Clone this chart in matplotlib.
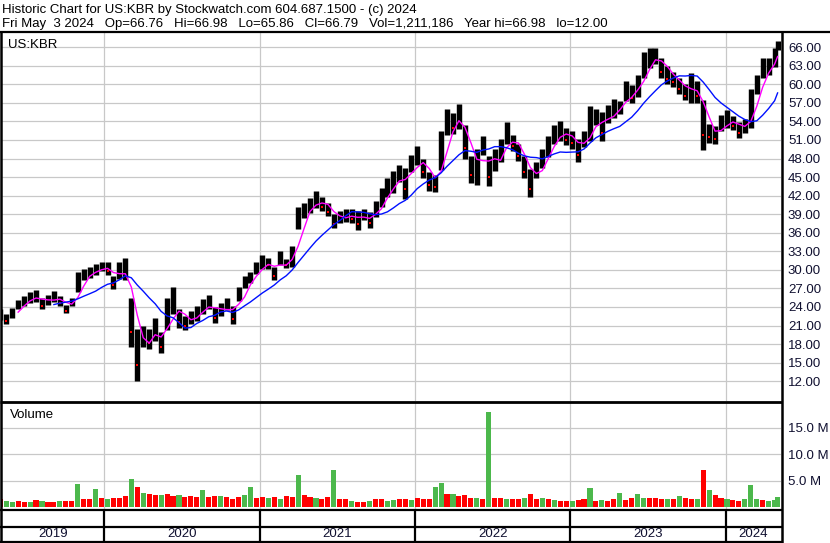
import numpy as np
import pandas as pd
import matplotlib
matplotlib.use("Agg")
import matplotlib.pyplot as plt
import matplotlib.dates as mdates
from matplotlib.lines import Line2D

plt.rcParams['font.family'] = ['Liberation Sans', 'DejaVu Sans']

# bi-weekly bars (US:KBR, May 2019 - May 2024)
dates = list(pd.date_range('2019-05-03', periods=131, freq='14D')) + [pd.Timestamp('2024-05-03')]

high = [23.6, 22.8, 23.9, 25.2, 25.8, 26.4, 26.8, 25.4, 26.0, 26.6,
        25.8, 24.3, 25.4, 29.6, 30.2, 30.4, 30.9, 31.2, 31.3, 29.0,
        31.3, 32.0, 25.5, 20.5, 21.0, 20.5, 22.3, 19.9, 25.5, 27.3,
        23.6, 22.5, 23.4, 24.2, 25.3, 26.0, 24.0, 24.7, 25.4, 24.2,
        27.3, 29.0, 29.6, 31.2, 32.4, 32.0, 30.4, 33.0, 31.8, 33.8,
        40.1, 40.8, 41.6, 42.8, 41.8, 40.8, 39.0, 39.6, 39.8, 39.8,
        39.5, 39.8, 39.4, 41.2, 43.2, 44.8, 46.0, 47.0, 46.5, 48.5,
        50.0, 48.0, 45.8, 45.4, 52.5, 56.0, 55.3, 56.8, 53.5, 48.4,
        49.6, 51.6, 48.4, 49.6, 51.2, 53.9, 51.8, 50.3, 48.4, 46.3,
        47.4, 49.6, 51.7, 53.4, 54.0, 52.9, 52.4, 51.2, 52.4, 56.5,
        56.0, 55.5, 56.6, 57.6, 57.3, 60.6, 59.9, 61.5, 65.3, 65.8,
        65.8, 64.2, 63.0, 62.0, 61.0, 60.0, 61.8, 60.5, 57.5, 53.6,
        53.3, 55.0, 55.8, 54.8, 53.9, 54.4, 59.2, 61.5, 64.2, 64.3,
        65.8, 67.0]

low = [21.9, 21.3, 22.2, 23.6, 24.2, 24.7, 24.8, 23.6, 24.3, 24.8,
       24.1, 23.0, 24.2, 26.5, 28.3, 28.7, 29.1, 29.8, 29.2, 26.9,
       28.6, 28.4, 17.5, 12.1, 17.6, 17.2, 18.5, 16.5, 20.2, 22.8,
       20.6, 20.2, 21.3, 21.8, 22.9, 23.7, 21.4, 22.5, 23.5, 21.2,
       24.9, 27.0, 27.8, 29.3, 30.2, 30.2, 28.3, 30.8, 30.3, 30.4,
       36.6, 38.4, 39.2, 40.0, 39.5, 38.7, 36.8, 37.5, 37.8, 37.6,
       36.5, 38.0, 36.8, 38.6, 40.2, 41.8, 42.5, 44.2, 41.5, 45.8,
       47.0, 44.8, 42.8, 42.6, 46.2, 51.8, 52.0, 52.8, 48.0, 44.0,
       43.8, 48.6, 43.6, 46.0, 47.5, 50.3, 49.2, 47.6, 44.8, 41.8,
       44.8, 46.4, 48.2, 50.4, 50.9, 50.2, 49.6, 47.4, 49.8, 50.8,
       53.4, 50.8, 53.8, 54.6, 55.2, 57.3, 57.0, 58.0, 61.0, 62.6,
       63.3, 61.0, 60.0, 59.6, 58.5, 57.4, 57.0, 57.0, 49.4, 50.5,
       50.3, 52.4, 52.9, 52.6, 51.4, 52.1, 53.0, 58.4, 61.0, 61.5,
       62.8, 65.6]

# volume in millions, and up (g) / down (r) day colour of the biggest bar
volume_m = [1.6, 1.2, 1.0, 1.3, 1.1, 1.0, 1.4, 1.2, 1.0, 1.1,
            1.3, 1.2, 1.2, 4.4, 1.6, 1.5, 3.5, 1.7, 1.6, 1.8,
            1.7, 2.2, 5.4, 3.8, 2.8, 2.5, 2.3, 2.4, 2.6, 2.2,
            2.4, 2.0, 2.1, 1.9, 3.2, 2.0, 2.2, 2.1, 2.0, 1.6,
            2.0, 2.3, 3.9, 1.8, 2.0, 1.8, 2.0, 1.6, 2.2, 2.0,
            6.2, 2.3, 1.9, 1.8, 1.6, 2.0, 7.1, 1.6, 1.5, 1.2,
            1.1, 1.0, 1.2, 1.5, 1.6, 1.3, 1.4, 1.5, 1.6, 1.4,
            1.7, 1.5, 1.6, 3.9, 4.6, 2.6, 2.5, 2.2, 2.3, 1.8,
            1.7, 1.5, 18.0, 1.8, 1.7, 1.6, 1.5, 1.6, 1.7, 2.5,
            1.6, 1.8, 1.5, 1.4, 1.3, 1.2, 1.3, 1.4, 1.5, 3.6,
            1.3, 1.4, 1.3, 1.6, 2.8, 1.4, 1.8, 2.6, 1.8, 1.8,
            1.8, 1.5, 1.6, 1.5, 2.2, 1.7, 1.6, 1.5, 7.1, 3.2,
            2.4, 1.8, 1.5, 1.4, 1.3, 1.5, 4.2, 1.5, 1.4, 1.3,
            1.4, 1.9]
vol_dir = ("rggrrgrgrr" "grrgrrgrgr" "rrgrgrrgrr" "grrrgrrgrr" "rggrrgrgrr"
           "grrgrrgrrg" "rrgrrggrrg" "rrrggrgrrr" "grgrrgrrgr" "rgrgrrgrrg"
           "rgrrgrrggr" "rrgrgrrgrg" "rrgrrgggrg" "gg")

years = [2019, 2020, 2021, 2022, 2023, 2024]
price_ticks = list(range(12, 67, 3))
vol_ticks = [5, 10, 15]

header1 = "Historic Chart for US:KBR by Stockwatch.com 604.687.1500 - (c) 2024"
header2 = ("Fri May  3 2024   Op=66.76   Hi=66.98   Lo=65.86   Cl=66.79   "
           "Vol=1,211,186   Year hi=66.98   lo=12.00")

W, H = 830, 543
fig = plt.figure(figsize=(W / 100, H / 100), dpi=100)


def box(l, t, r, b):
    return [l / W, 1 - b / H, (r - l) / W, (b - t) / H]


def hline(y, x0, x1, lw=1.5):
    fig.add_artist(Line2D([x0 / W, x1 / W], [1 - y / H, 1 - y / H], color='black', lw=lw,
                          transform=fig.transFigure, solid_capstyle='butt'))


def vline(x, y0, y1, lw=1.5):
    fig.add_artist(Line2D([x / W, x / W], [1 - y0 / H, 1 - y1 / H], color='black', lw=lw,
                          transform=fig.transFigure, solid_capstyle='butt'))


x = mdates.date2num(dates)
hi = np.array(high)
lo = np.array(low)
mid = (hi + lo) / 2
ma_fast = pd.Series(mid).rolling(3, min_periods=2).mean().values
ma_slow = pd.Series(mid).rolling(10, min_periods=10).mean().values
ma_fast[:3] = np.nan

xmin = mdates.date2num(pd.Timestamp('2019-05-07'))
xmax = mdates.date2num(pd.Timestamp('2024-05-11'))
year_x = [mdates.date2num(pd.Timestamp(f'{y}-01-02')) for y in years[1:]]

grid_c = '#c8c8c8'
lab_c = '#101030'
fs = 9.5

# price panel
ax = fig.add_axes(box(2, 33, 781, 401))
for yv in price_ticks:
    ax.axhline(yv, color=grid_c, lw=0.9, zorder=0)
for xv in year_x:
    ax.axvline(xv, color=grid_c, lw=0.9, zorder=0)
ax.vlines(x, lo, hi, color='black', lw=3.9, zorder=2)
down = np.r_[False, mid[1:] < mid[:-1]]
ax.plot(x[down], (lo + 0.3 * (hi - lo))[down], 's', color='red', ms=2.0, mew=0, zorder=3)
ax.plot(x, ma_fast, color='#ff00ff', lw=1.0, zorder=4)
ax.plot(x, ma_slow, color='#0010ff', lw=1.0, zorder=4)
ax.set_xlim(xmin, xmax)
ax.set_ylim(8.8, 68.3)
ax.yaxis.tick_right()
ax.set_yticks(price_ticks)
ax.set_yticklabels([f'{v:.2f}' for v in price_ticks], fontsize=9.5, color=lab_c)
ax.tick_params(axis='y', length=0, pad=5)
ax.set_xticks([])
for s in ax.spines.values():
    s.set_visible(False)
ax.text(0.008, 0.983, 'US:KBR', transform=ax.transAxes, fontsize=fs, va='top', ha='left')

# volume panel
axv = fig.add_axes(box(2, 402, 781, 509))
for yv in vol_ticks:
    axv.axhline(yv, color=grid_c, lw=0.9, zorder=0)
for xv in year_x:
    axv.axvline(xv, color=grid_c, lw=0.9, zorder=0)
cols = ['#ff0000' if c == 'r' else '#4cb84c' for c in vol_dir]
axv.bar(x, volume_m, width=12, color=cols, zorder=2)
axv.set_xlim(xmin, xmax)
axv.set_ylim(-0.3, 19.9)
axv.yaxis.tick_right()
axv.set_yticks(vol_ticks)
axv.set_yticklabels([f'{v:.1f} M' for v in vol_ticks], fontsize=9.5, color=lab_c)
axv.tick_params(axis='y', length=0, pad=5)
axv.set_xticks([])
for s in axv.spines.values():
    s.set_visible(False)
axv.text(0.01, 0.93, 'Volume', transform=axv.transAxes, fontsize=fs, va='top', ha='left')

# date rows
axd = fig.add_axes(box(2, 510, 781, 542))
axd.set_xlim(xmin, xmax)
axd.set_ylim(0, 1)
axd.axis('off')
for xv in year_x:
    axd.axvline(xv, color='black', lw=1.6)
edges = [xmin] + year_x + [xmax]
for y, a, b in zip(years, edges[:-1], edges[1:]):
    axd.text((a + b) / 2, 0.24, str(y), ha='center', va='center', fontsize=9.5, color=lab_c)

# frame lines
hline(32, 0, W, lw=1.6)
hline(401.5, 0, 782, lw=2.0)
hline(510, 0, 782, lw=1.6)
hline(527, 0, 782, lw=1.6)
hline(542, 0, 782, lw=1.6)
vline(1, 32, H, lw=1.8)
vline(782, 32, H, lw=1.8)

fig.text(2 / W, 1 - 13 / H, header1, fontsize=fs, va='baseline', ha='left')
fig.text(2 / W, 1 - 27 / H, header2, fontsize=fs, va='baseline', ha='left')

fig.savefig('out.png', dpi=100)
